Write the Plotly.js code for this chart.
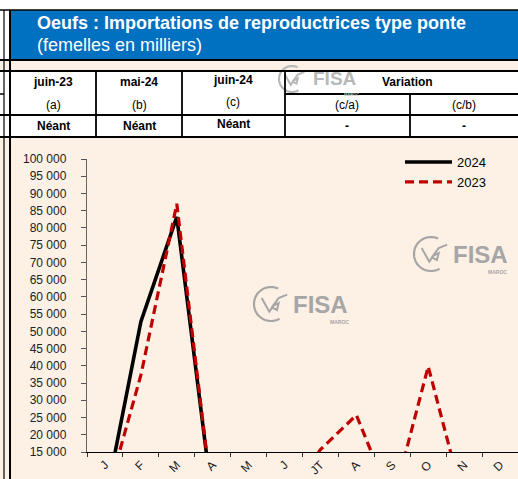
<!DOCTYPE html>
<html><head><meta charset="utf-8">
<script src="https://cdn.plot.ly/plotly-3.0.1.min.js"></script>
<style>html,body{margin:0;padding:0;background:#fff;overflow:hidden;} #chart{width:518px;height:479px;}</style>
</head><body><div id="chart"></div>
<script>
// ---- data ----
const months = ['J','F','M','A','M','J','JT','A','S','O','N','D'];
const values2024 = [0, 52800, 83200, 0, 0, 0, null, null, null, null, null, null];
const values2023 = [0, 37300, 87000, 0, 0, 0, 15700, 25700, 0, 39800, 0, 0];
const seriesNames = ['2024', '2023'];
const titleMain = 'Oeufs : Importations de reproductrices type ponte';
const titleSub = '(femelles en milliers)';
const tableHeaders = ['juin-23', 'mai-24', 'juin-24', 'Variation'];
const tableSub = ['(a)', '(b)', '(c)', '(c/a)', '(c/b)'];
const tableValues = ['Néant', 'Néant', 'Néant', '-', '-'];
const yMin = 15000, yMax = 100000, yStep = 5000;

// ---- geometry helpers (pixels -> paper) ----
const L = 87, R = 518, T = 159, B = 452;
const W = R - L, H = B - T;
const X = px => (px - L) / W;
const Y = py => (B - py) / H;
const FONT = 'Liberation Sans, Arial, sans-serif';
const PEACH = '#FDF0E5';

const shapes = [];
const ann = [];
function rect(x0, y0, x1, y1, fill) {
  shapes.push({type: 'rect', xref: 'paper', yref: 'paper', x0: X(x0), x1: X(x1), y0: Y(y0), y1: Y(y1),
    fillcolor: fill, line: {width: 0}, layer: 'below'});
}
function hline(y, x0, x1, w) {
  shapes.push({type: 'line', xref: 'paper', yref: 'paper', x0: X(x0), x1: X(x1), y0: Y(y), y1: Y(y),
    line: {color: '#000', width: w || 1.8}, layer: 'above'});
}
function vline(x, y0, y1, w) {
  shapes.push({type: 'line', xref: 'paper', yref: 'paper', x0: X(x), x1: X(x), y0: Y(y0), y1: Y(y1),
    line: {color: '#000', width: w || 1.8}, layer: 'above'});
}
function text(t, x, y, size, opts) {
  opts = opts || {};
  const a = {xref: 'paper', yref: 'paper', x: X(x), y: Y(y), text: t, showarrow: false,
    xanchor: opts.xanchor || 'center', yanchor: 'middle', borderpad: 0,
    font: {family: FONT, size: size, color: opts.color || '#000', weight: opts.bold ? 'bold' : 'normal'}};
  ann.push(a);
}
function logo(cx, cy, r, fisaX, fisaSize, color, marocX, marocY) {
  let pts = [];
  for (let a = 65; a <= 300; a += 5) {
    const rad = a * Math.PI / 180;
    pts.push([cx + r * Math.cos(rad), cy - r * Math.sin(rad)]);
  }
  let p = 'M' + pts.map(q => X(q[0]) + ',' + Y(q[1])).join(' L');
  shapes.push({type: 'path', xref: 'paper', yref: 'paper', path: p, line: {color: color, width: 2.2}, layer: 'below'});
  // swirl
  const sw = [[cx - 0.55 * r, cy - 0.35 * r], [cx - 0.1 * r, cy + 0.45 * r], [cx + 0.15 * r, cy + 0.1 * r],
              [cx + 0.45 * r, cy - 0.05 * r], [cx + 0.35 * r, cy + 0.35 * r], [cx + 0.05 * r, cy + 0.2 * r],
              [cx + 0.45 * r, cy - 0.35 * r], [cx + 0.95 * r, cy - 0.55 * r]];
  shapes.push({type: 'path', xref: 'paper', yref: 'paper',
    path: 'M' + sw.map(q => X(q[0]) + ',' + Y(q[1])).join(' L'), line: {color: color, width: 2}, layer: 'below'});
  text('FISA', fisaX, cy, fisaSize, {xanchor: 'left', bold: true, color: color});
  text('MAROC', marocX, marocY, Math.max(4, fisaSize * 0.21), {bold: true, color: color});
}

// backgrounds
rect(0, 137, 518, 479, PEACH);
rect(0, 61, 518, 71, PEACH);
rect(11, 10, 518, 60, '#0070C0');

// watermark logos
logo(292, 79, 13, 312, 19, '#B8B8B8', 351, 94.5);
logo(431, 254, 17, 452, 24, '#A6A6A6', 497, 271.5);
logo(271, 304, 17, 292, 24, '#A6A6A6', 339, 321.5);

// table / frame lines
hline(10, 0, 518, 1.6);
hline(60, 0, 518, 2);
hline(71, 0, 518, 1.8);
hline(94, 0, 4, 1.5);
hline(94, 285, 518, 1.8);
hline(115, 0, 518, 1.8);
hline(137, 0, 518, 2);
vline(4, 10, 479, 1.2);
vline(10, 10, 479, 2);
vline(96, 71, 137);
vline(182, 71, 137);
vline(285, 71, 137);
vline(410, 94, 137);

// titles
text('<b>' + titleMain + '</b>', 36, 23, 18, {xanchor: 'left', color: '#fff'});
text(titleSub, 36, 45, 18, {xanchor: 'left', color: '#fff'});

// table text
const colX = [53, 139, 233, 347, 464];
text('<b>' + tableHeaders[0] + '</b>', colX[0], 82, 12);
text('<b>' + tableHeaders[1] + '</b>', colX[1], 82, 12);
text('<b>' + tableHeaders[2] + '</b>', colX[2], 80, 12);
text('<b>' + tableHeaders[3] + '</b>', 407, 82, 12);
tableSub.forEach((s, i) => text(s, colX[i], i === 2 ? 102 : 104.5, 12));
tableValues.forEach((s, i) => text('<b>' + s + '</b>', colX[i], i === 2 ? 124 : 126, 12));

const xIdx = months.map((m, i) => i);
const traces = [
  {x: xIdx, y: values2024, name: seriesNames[0], type: 'scatter', mode: 'lines',
   line: {color: '#000000', width: 3.6}, connectgaps: false},
  {x: xIdx, y: values2023, name: seriesNames[1], type: 'scatter', mode: 'lines',
   line: {color: '#C00000', width: 3.2, dash: '9px,5px'}}
];

const layout = {
  width: 518, height: 479,
  margin: {l: L, r: 518 - R, t: T, b: 479 - B, pad: 0},
  paper_bgcolor: '#ffffff',
  plot_bgcolor: 'rgba(0,0,0,0)',
  separators: ', ',
  showlegend: true,
  legend: {x: X(400), y: Y(147), xanchor: 'left', yanchor: 'top', bgcolor: 'rgba(0,0,0,0)',
    font: {family: FONT, size: 13, color: '#000'}, itemwidth: 47, tracegroupgap: 0},
  xaxis: {range: [-0.5, 11.5], tickvals: xIdx, ticktext: months, tickangle: -45,
    ticks: '', showgrid: false, zeroline: false, showline: true, linecolor: '#000', linewidth: 1.2,
    tickfont: {family: FONT, size: 12, color: '#222'},
    minor: {ticks: 'outside', tick0: -0.5, dtick: 1, ticklen: 4, tickcolor: '#333', tickwidth: 1, showgrid: false},
    fixedrange: true},
  yaxis: {range: [yMin, yMax], dtick: yStep, tick0: 0, tickformat: ',.0f', ticks: 'outside', ticklen: 5,
    tickcolor: '#555', tickwidth: 1, showgrid: false, zeroline: false, showline: true, linecolor: '#666',
    linewidth: 1.2, tickfont: {family: FONT, size: 12, color: '#222'}, ticklabelstandoff: 12, fixedrange: true},
  shapes: shapes,
  annotations: ann
};
Plotly.newPlot('chart', traces, layout, {displayModeBar: false, staticPlot: true});
</script>
</body></html>
